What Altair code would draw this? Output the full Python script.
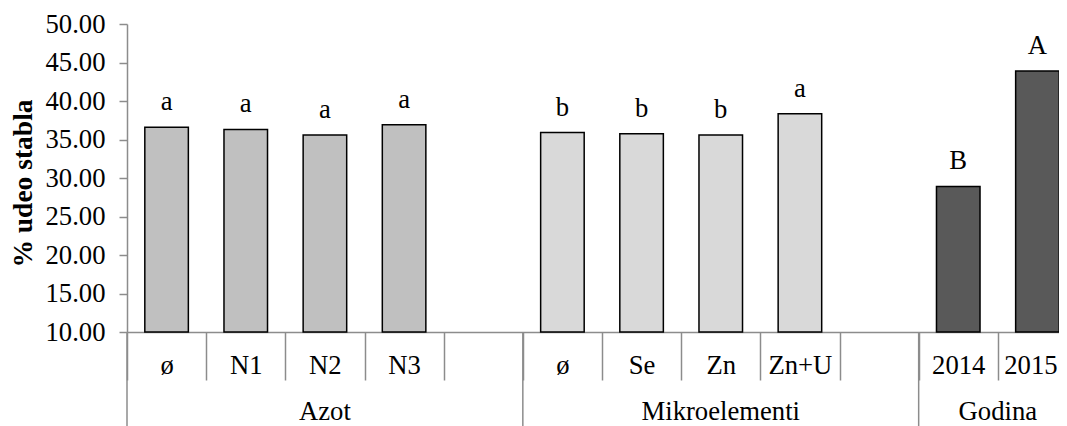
import altair as alt
import pandas as pd

# ---- data ----
groups = ["Azot"] * 5 + ["Mikroelementi"] * 5 + ["Godina"] * 2
subcats = ["ø", "N1", "N2", "N3", "", "ø", "Se", "Zn", "Zn+U", "", "2014", "2015"]
values = [36.6, 36.3, 35.6, 36.9, None, 35.9, 35.75, 35.6, 38.35, None, 28.9, 43.9]
letters = ["a", "a", "a", "a", "", "b", "b", "b", "a", "", "B", "A"]

group_names = ["Azot", "Mikroelementi", "Godina"]
group_colors = ["#c0c0c0", "#d9d9d9", "#595959"]
y_ticks = [10, 15, 20, 25, 30, 35, 40, 45, 50]

FONT = "Liberation Serif"
FS = 26.67
AXIS_GRAY = "#8c8c8c"

keys = [f"{i:02d}|{s}" for i, s in enumerate(subcats)]
df = pd.DataFrame({"key": keys, "group": groups, "sub": subcats,
                   "value": values, "letter": letters})
bars_df = df[df["value"].notna()]

sep_df = pd.DataFrame({"key": [keys[groups.index(g)] for g in group_names]})
glab_mid = pd.DataFrame({"key": [keys[2], keys[7]], "name": ["Azot", "Mikroelementi"]})
glab_edge = pd.DataFrame({"key": [keys[11]], "name": ["Godina"]})

# 12 slots of ~79 px; the last one runs past the right edge as in the reference
xscale = alt.Scale(domain=keys, paddingInner=0, paddingOuter=0, range=[0, 950])
yscale = alt.Scale(domain=[10, 50], nice=False, zero=False)

x_axis = alt.Axis(
    title=None,
    labelExpr="split(datum.label, '|')[1]",
    labelAngle=0,
    labelOverlap=False,
    tickBand="extent",
    tickSize=48,
    tickWidth=1.5,
    tickColor=AXIS_GRAY,
    domainColor=AXIS_GRAY,
    domainWidth=1.5,
    labelPadding=-15,
    labelBaseline="middle",
    labelOffset={"condition": {"test": f"datum.value === '{keys[11]}'", "value": -7}, "value": 0},
    labelFont=FONT,
    labelFontSize=FS,
    labelColor="black",
)

y_axis = alt.Axis(
    title="% udeo stabla",
    values=y_ticks,
    format=".2f",
    grid=False,
    labelOverlap=False,
    tickSize=8,
    tickWidth=1.5,
    tickColor=AXIS_GRAY,
    domainColor=AXIS_GRAY,
    domainWidth=1.5,
    labelPadding=14,
    labelFont=FONT,
    labelFontSize=FS,
    labelColor="black",
    titleFont=FONT,
    titleFontSize=27.5,
    titleFontWeight="bold",
    titleColor="black",
    titleAngle=-90,
    titleX=-104,
    titleY=159,
    titleAlign="center",
    titleBaseline="middle",
)

bars = alt.Chart(bars_df).mark_bar(
    width={"band": 0.55}, stroke="black", strokeWidth=1.5
).encode(
    x=alt.X("key:N", scale=xscale, axis=x_axis),
    y=alt.Y("value:Q", scale=yscale, axis=y_axis),
    y2=alt.datum(10),
    color=alt.Color("group:N", scale=alt.Scale(domain=group_names, range=group_colors), legend=None),
)

letters_layer = alt.Chart(bars_df).mark_text(
    dy=-17, baseline="alphabetic", font=FONT, fontSize=FS, color="black"
).encode(
    x=alt.X("key:N", scale=xscale, axis=x_axis),
    y=alt.Y("value:Q", scale=yscale, axis=y_axis),
    text="letter:N",
)

seps = alt.Chart(sep_df).mark_rule(color=AXIS_GRAY, strokeWidth=1.5).encode(
    x=alt.X("key:N", scale=xscale, bandPosition=0, axis=x_axis),
    y=alt.value(308),
    y2=alt.value(420),
)

glab1 = alt.Chart(glab_mid).mark_text(
    baseline="alphabetic", font=FONT, fontSize=FS, color="black"
).encode(
    x=alt.X("key:N", scale=xscale, axis=x_axis),
    y=alt.value(396),
    text="name:N",
)

glab2 = alt.Chart(glab_edge).mark_text(
    baseline="alphabetic", font=FONT, fontSize=FS, color="black"
).encode(
    x=alt.X("key:N", scale=xscale, bandPosition=0, axis=x_axis),
    y=alt.value(396),
    text="name:N",
)

chart = alt.layer(bars, letters_layer, seps, glab1, glab2).properties(
    width=932,
    height=308,
    autosize=alt.AutoSizeParams(type="none"),
    padding={"left": 119, "top": 16, "right": 0, "bottom": 94},
).configure_view(stroke=None)

chart.save("out.html", embed_options={"renderer": "svg", "actions": False})
